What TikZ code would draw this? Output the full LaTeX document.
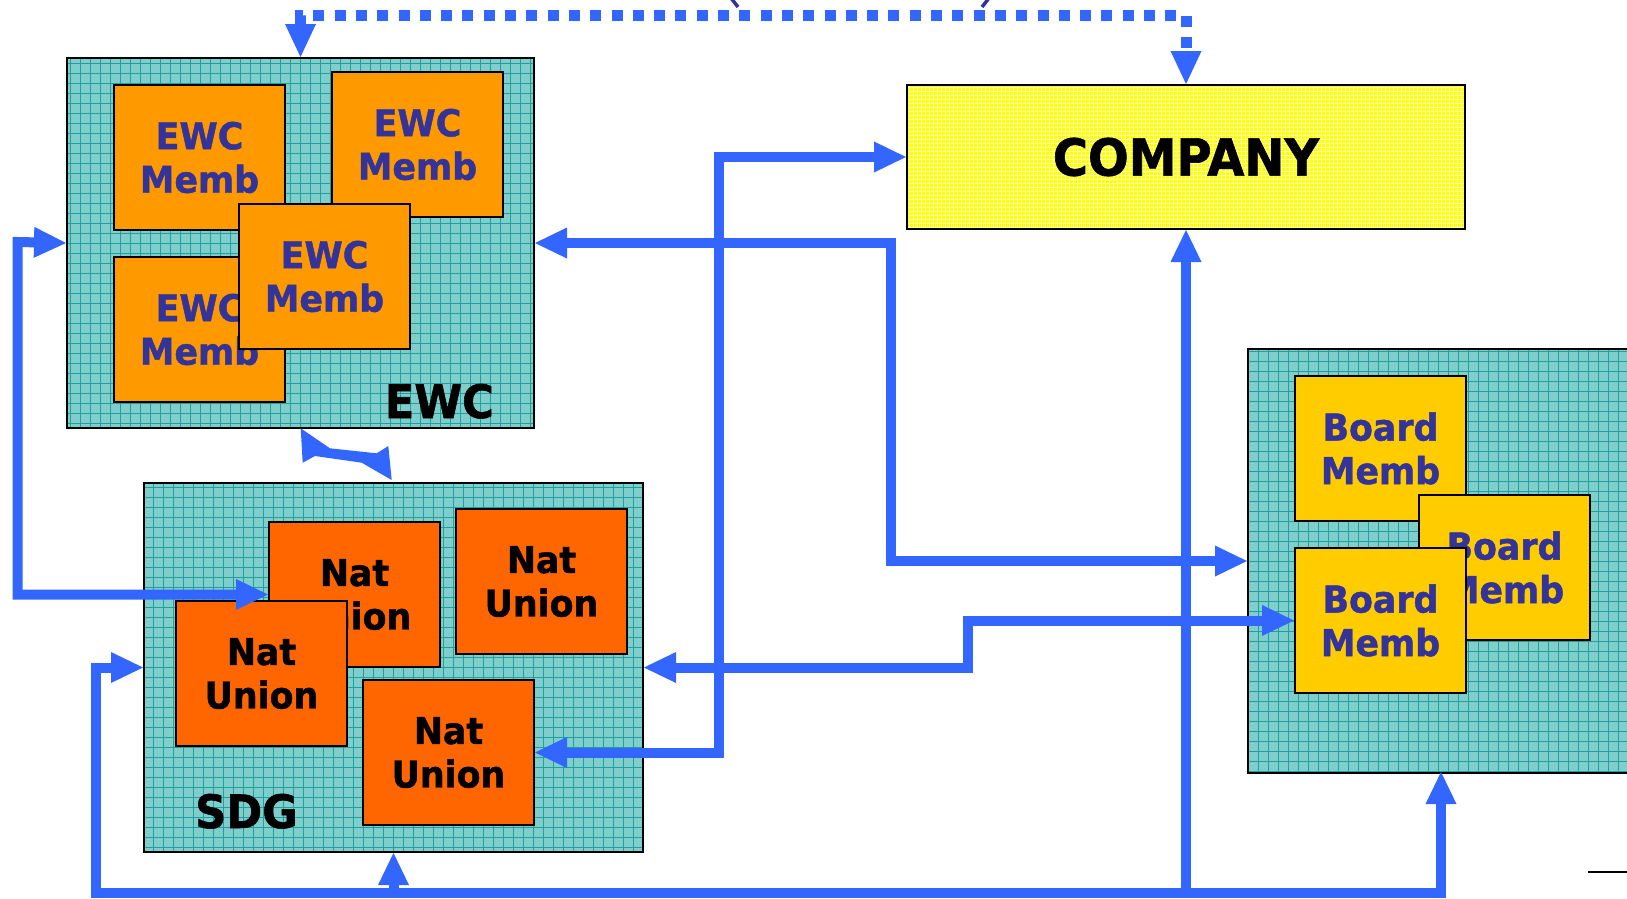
\documentclass[tikz,border=0pt]{standalone}
\usepackage{fontspec}
\newfontfamily\bfont{DejaVu Sans}[FakeStretch=0.94,FakeBold=1.2]
\usetikzlibrary{arrows.meta}
\definecolor{teal1}{RGB}{128,206,204}
\definecolor{tealln}{RGB}{30,160,160}
\definecolor{ewcor}{RGB}{255,153,0}
\definecolor{natOr}{RGB}{255,102,0}
\definecolor{boardY}{RGB}{255,204,0}
\definecolor{compY}{RGB}{255,255,0}
\definecolor{compLn}{RGB}{255,255,170}
\definecolor{arrowB}{RGB}{51,102,255}
\definecolor{txtB}{RGB}{51,51,153}
\tikzset{
 container/.style={draw=black, line width=2pt, fill=teal1, anchor=north west, inner sep=0pt,
   path picture={\draw[tealln, line width=0.6pt] (path picture bounding box.south west) grid[step=10pt] (path picture bounding box.north east);}},
 memb/.style={draw=black, line width=2pt, anchor=north west, inner sep=0pt, minimum width=171pt, minimum height=145pt, align=center,
   font=\bfont\bfseries\fontsize{37}{43.5}\selectfont},
 ewcm/.style={memb, fill=ewcor, text=txtB},
 natu/.style={memb, fill=natOr, text=black},
 brdm/.style={memb, fill=boardY, text=txtB},
 compbox/.style={draw=black, line width=2pt, fill=compY, anchor=north west, inner sep=0pt,
   font=\bfont\bfseries\fontsize{51}{56}\selectfont,
   path picture={\draw[compLn, line width=0.4pt] (path picture bounding box.south west) grid[step=4pt] (path picture bounding box.north east);}},
 conn/.style={draw=arrowB, line width=10pt, line join=miter, >={Triangle[length=32pt,width=31pt,line width=0pt]}},
 dotconn/.style={draw=arrowB, line width=11pt, dash pattern=on 11pt off 10.3pt, >={Triangle[length=33pt,width=31pt,line width=0pt]}},
 lbl/.style={font=\bfont\bfseries\fontsize{46}{50}\selectfont, inner sep=0pt, text=black},
}
\begin{document}
\begin{tikzpicture}[x=1pt,y=-1pt]
\useasboundingbox (0,0) rectangle (1627,898);
\clip (0,0) rectangle (1627,898);
\fill[white] (0,0) rectangle (1627,898);

% containers
\node[container, minimum width=467pt, minimum height=370pt] (ewc) at (66,57) {};
\node[container, minimum width=499pt, minimum height=369pt] (sdg) at (143,482) {};
\node[container, minimum width=400pt, minimum height=424pt] (board) at (1247,348) {};
\node[compbox, minimum width=558pt, minimum height=144pt] (company) at (906,84) {COMPANY};

% EWC members
\node[ewcm] (m1) at (113,84) {EWC\\Memb};
\node[ewcm] (m2) at (331,71) {EWC\\Memb};
\node[ewcm] (m3) at (113,256) {EWC\\Memb};
\node[ewcm] (m4) at (238,203) {EWC\\Memb};
\node[lbl, anchor=base east] (ewclbl) at (494,418) {EWC};

% Nat unions
\node[natu] (n1) at (268,521) {Nat\\Union};
\node[natu] (n2) at (455,508) {Nat\\Union};
\node[natu] (n3) at (175,600) {Nat\\Union};
\node[natu] (n4) at (362,679) {Nat\\Union};
\node[lbl, anchor=base west] (sdglbl) at (195,828) {SDG};

% Board members
\node[brdm] (b1) at (1294,375) {Board\\Memb};
\node[brdm] (b2) at (1418,494) {Board\\Memb};
\node[brdm] (b3) at (1294,547) {Board\\Memb};

% helper coordinates
\coordinate (busL) at (95.5,893);
\coordinate (loopL) at (17.5,242);
\coordinate (c1) at (891,400);
\coordinate (c2) at (719,400);
\coordinate (c3) at (968,640);
\coordinate (c4) at (700,15.5);
\coordinate (boardB) at (1441,772);

% connectors
\draw[conn,<->] (n1.west) -| (loopL) -- (ewc.west);
\draw[conn,<->] (ewc.east) -| (c1) |- (board.west);
\draw[conn,<->] (company.west) -| (c2) |- (n4.east);
\draw[conn,<->] (sdg.east) -| (c3) |- (b3.west);
\draw[conn,<->] (sdg.west) -| (busL) -| (boardB);
\draw[conn,->] (sdg.south |- busL) -- (sdg.south);
\draw[conn,->] (company.south |- busL) -- (company.south);
\draw[dotconn,<->] (ewc.north) |- (c4) -| (company.north);

% EWC - SDG connector shape
\fill[arrowB] (300.7,428.3) -- (330,448.3) -- (376.7,453.3) -- (388.3,446) -- (391.7,480) -- (361.7,462.7) -- (315,456) -- (302.7,462.7) -- cycle;

% cut-off fragments at the edges
\draw[txtB, line width=3.5pt] (731,-2) -- (738,7);
\draw[txtB, line width=3.5pt] (989,-2) -- (982,7);
\draw[black, line width=2.5pt] (1588,872) -- (1630,872);
\end{tikzpicture}
\end{document}
